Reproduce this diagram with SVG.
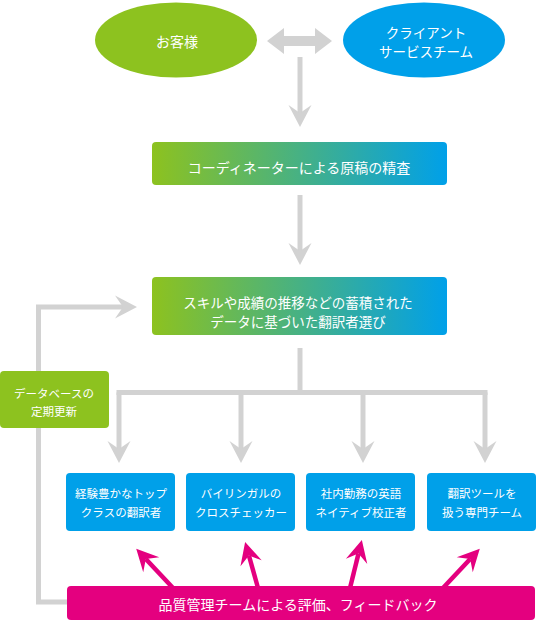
<svg xmlns="http://www.w3.org/2000/svg" width="536" height="621" viewBox="0 0 536 621">
<defs>
<style>
.t{font-family:"Noto Sans CJK JP","Noto Sans",sans-serif;fill:#fff;text-anchor:middle;dominant-baseline:central}
.t14{font-size:14px}
.t135{font-size:13.5px}
.t12{font-size:11.5px}
.gl{fill:none;stroke:#d2d2d2;stroke-width:5}
.pl{fill:none;stroke:#e4007f;stroke-width:4.5}
.blue{fill:#00a0e9}
</style>
<linearGradient id="grad" x1="0" y1="0" x2="1" y2="0">
<stop offset="0" stop-color="#8dc21f"/>
<stop offset="1" stop-color="#00a0e9"/>
</linearGradient>
<marker id="ga" viewBox="-10 -13 26 26" refX="0" refY="0" markerWidth="26" markerHeight="26" markerUnits="userSpaceOnUse" orient="auto">
<path d="M-8,-11.5 L14,0 L-8,11.5 L0,0 Z" fill="#d2d2d2"/>
</marker>
<marker id="pa" viewBox="-10 -13 26 26" refX="0" refY="0" markerWidth="26" markerHeight="26" markerUnits="userSpaceOnUse" orient="auto">
<path d="M-8,-11 L14,0 L-8,11 L0,0 Z" fill="#e4007f"/>
</marker>
</defs>

<g id="connectors">
<polygon points="267,41 284,28 284,36 315,36 315,28 332,41 315,54 315,46 284,46 284,54" fill="#d2d2d2"/>
<path class="gl" d="M300,57 V113" marker-end="url(#ga)"/>
<path class="gl" d="M300,195 V251" marker-end="url(#ga)"/>
<path class="gl" d="M300,348 V392.5"/>
<path class="gl" d="M116.5,392.5 H487.5"/>
<path class="gl" d="M119,392.5 V449" marker-end="url(#ga)"/>
<path class="gl" d="M241,392.5 V449" marker-end="url(#ga)"/>
<path class="gl" d="M363,392.5 V449" marker-end="url(#ga)"/>
<path class="gl" d="M485,392.5 V449" marker-end="url(#ga)"/>
<path class="gl" d="M70,602 H38.5 V307 H123" marker-end="url(#ga)"/>
<path class="pl" d="M173,588 L145.8,559" marker-end="url(#pa)"/>
<path class="pl" d="M258,588 L248.9,555.5" marker-end="url(#pa)"/>
<path class="pl" d="M350,588 L358.5,553.6" marker-end="url(#pa)"/>
<path class="pl" d="M443,588 L470.2,559" marker-end="url(#pa)"/>
</g>

<g id="customer">
<ellipse cx="176" cy="40" rx="81" ry="37.5" fill="#8dc21f"/>
<text class="t t14" x="177" y="41">お客様</text>
</g>
<g id="client-team">
<ellipse cx="424" cy="40" rx="81" ry="37.5" fill="#00a0e9"/>
<text class="t t135" x="426" y="31.5">クライアント</text>
<text class="t t135" x="426" y="51">サービスチーム</text>
</g>
<g id="coordinator">
<rect x="152" y="142" width="295" height="43" rx="4" fill="url(#grad)"/>
<text class="t t14" x="299" y="167">コーディネーターによる原稿の精査</text>
</g>
<g id="selection">
<rect x="152" y="277" width="295" height="58" rx="4" fill="url(#grad)"/>
<text class="t t135" x="298" y="301.5">スキルや成績の推移などの蓄積された</text>
<text class="t t135" x="298" y="321">データに基づいた翻訳者選び</text>
</g>
<g id="db-update">
<rect x="0" y="371" width="109" height="57" rx="4" fill="#8dc21f"/>
<text class="t t12" x="54" y="393">データベースの</text>
<text class="t t12" x="54" y="411">定期更新</text>
</g>
<g id="translator">
<rect class="blue" x="66" y="473" width="109" height="58" rx="4"/>
<text class="t t12" x="121" y="493">経験豊かなトップ</text>
<text class="t t12" x="121" y="512">クラスの翻訳者</text>
</g>
<g id="checker">
<rect class="blue" x="186" y="473" width="109" height="58" rx="4"/>
<text class="t t12" x="241" y="493">バイリンガルの</text>
<text class="t t12" x="241" y="512">クロスチェッカー</text>
</g>
<g id="proofreader">
<rect class="blue" x="306" y="473" width="109" height="58" rx="4"/>
<text class="t t12" x="361" y="493">社内勤務の英語</text>
<text class="t t12" x="361" y="512">ネイティブ校正者</text>
</g>
<g id="tool-team">
<rect class="blue" x="427" y="473" width="109" height="58" rx="4"/>
<text class="t t12" x="482" y="493">翻訳ツールを</text>
<text class="t t12" x="482" y="512">扱う専門チーム</text>
</g>
<g id="qa-team">
<rect x="67" y="586" width="468" height="34" rx="4" fill="#e4007f"/>
<text class="t t14" x="298" y="604">品質管理チームによる評価、フィードバック</text>
</g>
</svg>
